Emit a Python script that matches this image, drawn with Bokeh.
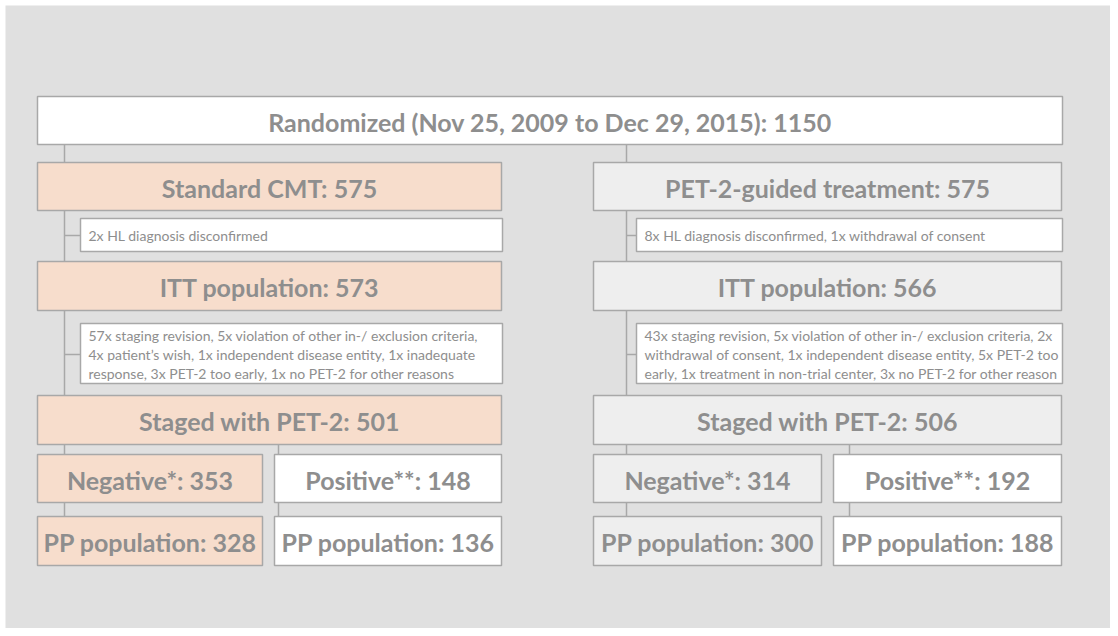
from bokeh.plotting import figure
from bokeh.models import Range1d, ColumnDataSource
from bokeh.core.properties import value
from bokeh.embed import file_html
from bokeh.resources import INLINE

# ---- data ----
randomized_label = "Randomized (Nov 25, 2009 to Dec 29, 2015)"
randomized_n = 1150
arm_labels = ["Standard CMT", "PET-2-guided treatment"]
arm_n = [575, 575]
itt_n = [573, 566]
staged_n = [501, 506]
negative_n = [353, 314]
positive_n = [148, 192]
pp_negative_n = [328, 300]
pp_positive_n = [136, 188]
excl_itt = ["2x HL diagnosis disconfirmed",
            "8x HL diagnosis disconfirmed, 1x withdrawal of consent"]
excl_staged = [
    ["57x staging revision, 5x violation of other in-/ exclusion criteria,",
     "4x patient\u2019s wish, 1x independent disease entity, 1x inadequate",
     "response, 3x PET-2 too early, 1x no PET-2 for other reasons"],
    ["43x staging revision, 5x violation of other in-/ exclusion criteria, 2x",
     "withdrawal of consent, 1x independent disease entity, 5x PET-2 too",
     "early, 1x treatment in non-trial center, 3x no PET-2 for other reason"],
]

# ---- style ----
BG = "#e0e0e0"
ORANGE = "#f7ddcc"
GREY = "#eeeeee"
WHITE = "#ffffff"
BORDER = "#a8a8a8"
TXT = "#8e8e8e"
FONT = "Lato"
BIG = "25px"
SMALL = "14px"

p = figure(width=1110, height=628, x_range=Range1d(5, 1110), y_range=Range1d(628, 5),
           output_backend="svg", toolbar_location=None,
           min_border_left=5, min_border_top=5, min_border_right=0, min_border_bottom=0)
p.axis.visible = False
p.grid.visible = False
p.outline_line_color = None
p.background_fill_color = BG
p.border_fill_color = WHITE

# layout geometry (picture pixels)
cols = [dict(l=37, r=501, nl=37, nr=262, pl=274, pr=501, cx=64, cx2=278, el=80),
        dict(l=593, r=1061, nl=593, nr=821, pl=833, pr=1061, cx=626, cx2=849, el=636)]
rows = dict(arm=(162, 210), ex1=(218, 251), itt=(261, 310), ex2=(323, 383),
            staged=(395, 444), neg=(454, 502), pp=(516, 565))

boxes = dict(left=[], right=[], top=[], bottom=[], fill=[])
big = dict(x=[], y=[], t=[])
small = dict(x=[], y=[], t=[])
seg = dict(x0=[], y0=[], x1=[], y1=[])

def box(l, r, row, fill, label=None):
    t, b = rows[row] if isinstance(row, str) else row
    boxes["left"].append(l); boxes["right"].append(r)
    boxes["top"].append(t); boxes["bottom"].append(b); boxes["fill"].append(fill)
    if label is not None:
        big["x"].append((l + r) / 2); big["y"].append((t + b) / 2 + 1); big["t"].append(label)

def line(x0, y0, x1, y1):
    seg["x0"].append(x0); seg["y0"].append(y0); seg["x1"].append(x1); seg["y1"].append(y1)

# top box
box(37, 1062, (96, 144), WHITE, f"{randomized_label}: {randomized_n}")

for i, c in enumerate(cols):
    fill = ORANGE if i == 0 else GREY
    line(c["cx"], 144, c["cx"], 162)
    line(c["cx"], 210, c["cx"], 261)
    line(c["cx"], 310, c["cx"], 395)
    line(c["cx"], 444, c["cx"], 454)
    line(c["cx"], 502, c["cx"], 516)
    line(c["cx2"], 444, c["cx2"], 454)
    line(c["cx2"], 502, c["cx2"], 516)
    line(c["cx"], 235, c["el"], 235)
    line(c["cx"], 354, c["el"], 354)

    box(c["l"], c["r"], "arm", fill, f"{arm_labels[i]}: {arm_n[i]}")
    box(c["el"], c["r"] + 1, "ex1", WHITE)
    small["x"].append(c["el"] + 8); small["y"].append(235); small["t"].append(excl_itt[i])
    box(c["l"], c["r"], "itt", fill, f"ITT population: {itt_n[i]}")
    box(c["el"], c["r"] + 1, "ex2", WHITE)
    for k, s in enumerate(excl_staged[i]):
        small["x"].append(c["el"] + 8); small["y"].append(335 + 19 * k); small["t"].append(s)
    box(c["l"], c["r"], "staged", fill, f"Staged with PET-2: {staged_n[i]}")
    box(c["nl"], c["nr"], "neg", fill, f"Negative*: {negative_n[i]}")
    box(c["pl"], c["pr"], "neg", WHITE, f"Positive**: {positive_n[i]}")
    box(c["nl"], c["nr"], "pp", fill, f"PP population: {pp_negative_n[i]}")
    box(c["pl"], c["pr"], "pp", WHITE, f"PP population: {pp_positive_n[i]}")

p.segment(x0="x0", y0="y0", x1="x1", y1="y1", source=ColumnDataSource(seg),
          line_color=BORDER, line_width=1.5)
p.quad(left="left", right="right", top="top", bottom="bottom", fill_color="fill",
       source=ColumnDataSource(boxes), line_color=BORDER, line_width=1.5)
p.text(x="x", y="y", text="t", source=ColumnDataSource(big), text_font=value(FONT),
       text_font_style="bold", text_font_size=BIG, text_color=TXT,
       text_align="center", text_baseline="middle")
p.text(x="x", y="y", text="t", source=ColumnDataSource(small), text_font=value(FONT),
       text_font_size=SMALL, text_color=TXT, text_align="left", text_baseline="middle")

open("out.html", "w").write(file_html(p, INLINE))
